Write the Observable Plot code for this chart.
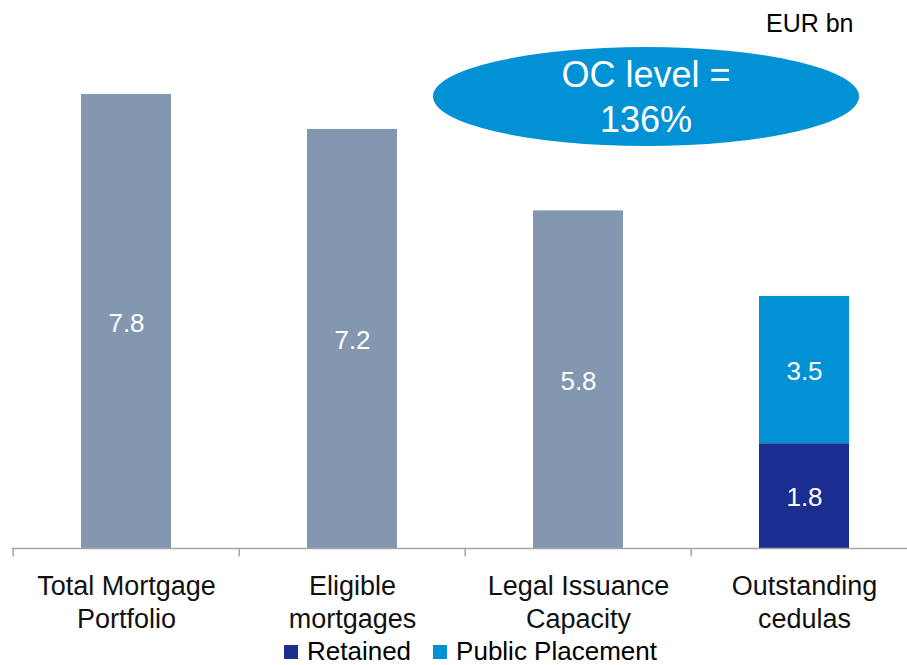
<!DOCTYPE html>
<html>
<head>
<meta charset="utf-8">
<script src="https://cdn.jsdelivr.net/npm/d3@7"></script>
<script src="https://cdn.jsdelivr.net/npm/@observablehq/plot@0.6"></script>
<style>
  html, body { margin: 0; padding: 0; background: #fff; }
  #chart svg { display: block; }
  .legend { display: flex; align-items: center; margin-left: 284px; height: 27px;
            font-family: "Liberation Sans", Arial, sans-serif; font-size: 26px; line-height: 27px; color: #000; }
  .legend .sw { display: inline-block; width: 14px; height: 14px; margin-right: 9px; }
  .legend .item { display: flex; align-items: center; margin-right: 22px; }
</style>
</head>
<body>
<div id="chart"></div>
<div class="legend" id="legend"></div>
<script>
// ---- data ----
const categories = ["Total Mortgage\nPortfolio", "Eligible\nmortgages", "Legal Issuance\nCapacity", "Outstanding\ncedulas"];
const portfolioValues = [7.8, 7.2, 5.8];
const portfolioLabels = ["7.8", "7.2", "5.8"];
const cedulasSeries = ["Retained", "Public Placement"];
const cedulasValues = [1.8, 2.53];     // drawn segment heights
const cedulasLabels = ["1.8", "3.5"];  // printed labels
const seriesNames = ["Portfolio", "Retained", "Public Placement"];
const seriesColors = ["#8497b0", "#1b2e8f", "#0092d4"];
const unitLabel = "EUR bn";
const ocLines = ["OC level =", "136%"];

// ---- table ----
const rows = [];
portfolioValues.forEach((v, i) => rows.push({cat: categories[i], series: "Portfolio", value: v, label: portfolioLabels[i]}));
cedulasValues.forEach((v, i) => rows.push({cat: categories[3], series: cedulasSeries[i], value: v, label: cedulasLabels[i]}));

const W = 907, H = 638;
const step = W / (categories.length - 0.6 + 0.6);

const plot = Plot.plot({
  width: W, height: H,
  marginLeft: 12, marginRight: 0, marginTop: 0, marginBottom: 0,
  style: {fontFamily: "'Liberation Sans', Arial, sans-serif", background: "white", overflow: "visible"},
  x: {domain: categories, range: [12, 12 + step * categories.length], paddingInner: 0.6, paddingOuter: 0.3, axis: null},
  y: {domain: [0, 7.8], range: [548, 94], axis: null},
  color: {domain: seriesNames, range: seriesColors},
  marks: [
    Plot.barY(rows, {x: "cat", y: "value", fill: "series"}),
    Plot.text(rows, Plot.stackY({x: "cat", y: "value", text: "label", fill: "white", fontSize: 26, dy: 2})),
    Plot.ruleY([0], {stroke: "#a6a6a6", strokeWidth: 1.5}),
    Plot.ruleX(categories, {x: d => d, y1: 0, y2: -0.145, dx: -step / 2, stroke: "#a6a6a6", strokeWidth: 1.5}),
    Plot.text(categories, {x: d => d, y: 0, text: d => d, dy: 23, lineAnchor: "top", lineHeight: 1.22, fontSize: 27, fill: "#111"}),
    Plot.text([unitLabel], {frameAnchor: "top-right", text: d => d, textAnchor: "end", lineAnchor: "top", dx: -54, dy: 14, fontSize: 25, fill: "#000"})
  ]
});
document.getElementById("chart").appendChild(plot);

// OC annotation bubble
const svg = d3.select(plot);
const g = svg.append("g");
g.append("ellipse").attr("cx", 646).attr("cy", 96.5).attr("rx", 213).attr("ry", 49.5).attr("fill", "#0092d4");
g.selectAll("text.oc").data(ocLines).join("text")
  .attr("class", "oc")
  .attr("x", 646).attr("y", (d, i) => 87 + i * 45)
  .attr("text-anchor", "middle").attr("fill", "white")
  .attr("font-size", 36).attr("font-family", "'Liberation Sans', Arial, sans-serif")
  .text(d => d);

// legend
const legend = d3.select("#legend");
cedulasSeries.forEach((s, i) => {
  const item = legend.append("div").attr("class", "item");
  item.append("span").attr("class", "sw").style("background", seriesColors[i + 1]);
  item.append("span").text(s);
});
</script>
</body>
</html>
